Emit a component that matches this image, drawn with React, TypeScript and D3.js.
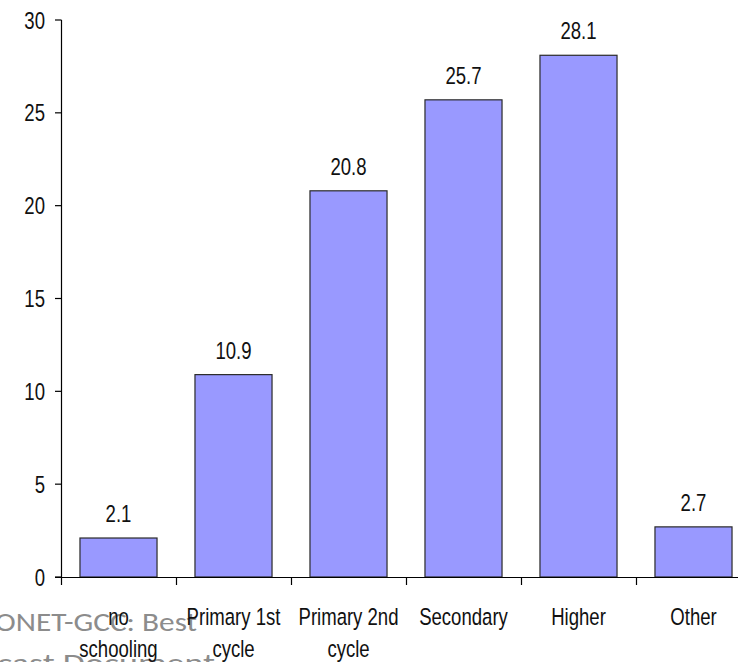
import React from "react";
import * as d3 from "d3";

const categories = ["no schooling", "Primary 1st cycle", "Primary 2nd cycle", "Secondary", "Higher", "Other"];
const categoryLines = [["no", "schooling"], ["Primary 1st", "cycle"], ["Primary 2nd", "cycle"], ["Secondary"], ["Higher"], ["Other"]];
const values = [2.1, 10.9, 20.8, 25.7, 28.1, 2.7];
const valueLabels = ["2.1", "10.9", "20.8", "25.7", "28.1", "2.7"];
const yTicks = [0, 5, 10, 15, 20, 25, 30];

const W = 738;
const H = 662;
const FONT = "'Liberation Sans', Arial, sans-serif";
const SX = 0.79;

function NText({ x, y, anchor, children }: { x: number; y: number; anchor: string; children: React.ReactNode }) {
  return (
    <text
      transform={`translate(${x},${y}) scale(${SX},1)`}
      textAnchor={anchor}
      fontFamily={FONT}
      fontSize={23.5}
      fill="#111"
    >
      {children}
    </text>
  );
}

export default function App() {
  const x = d3.scaleBand<string>().domain(categories).range([61, 61 + 6 * 115]).padding(0);
  const y = d3.scaleLinear().domain([0, 30]).range([577, 20]);
  const bw = x.bandwidth();
  const barW = bw * 0.67;

  return (
    <svg width={W} height={H} style={{ position: "absolute", left: 0, top: 0, background: "#fff" }}>
      {/* background watermark text */}
      <g fontFamily="Carlito, Calibri, Lato, 'Open Sans', sans-serif" fontSize={27} fill="#8c8c8c">
        <text x={-5} y={631} textLength={202} lengthAdjust="spacingAndGlyphs">ONET-GCC: Best</text>
        <text x={-3} y={672} textLength={218} lengthAdjust="spacingAndGlyphs">cast Document</text>
      </g>

      {/* bars */}
      {values.map((v, i) => {
        const bx = (x(categories[i]) as number) + (bw - barW) / 2;
        return (
          <rect
            key={i}
            x={bx}
            y={y(v)}
            width={barW}
            height={y(0) - y(v)}
            fill="#9999FF"
            stroke="#2a2a2a"
            strokeWidth={1.2}
          />
        );
      })}

      {/* value labels */}
      {values.map((v, i) => (
        <NText key={i} x={(x(categories[i]) as number) + bw / 2} y={y(v) - 16} anchor="middle">
          {valueLabels[i]}
        </NText>
      ))}

      {/* y axis */}
      <line x1={61.5} x2={61.5} y1={y(30)} y2={585} stroke="#000" strokeWidth={1.2} />
      {yTicks.map((t) => (
        <g key={t}>
          <line x1={55} x2={61.5} y1={y(t)} y2={y(t)} stroke="#000" strokeWidth={1.2} />
          <NText x={45} y={y(t) + 8.5} anchor="end">
            {t}
          </NText>
        </g>
      ))}

      {/* x axis */}
      <line x1={55} x2={W} y1={577.5} y2={577.5} stroke="#000" strokeWidth={1.2} />
      {categories.map((c) => (
        <line
          key={c}
          x1={(x(c) as number) + bw + 0.5}
          x2={(x(c) as number) + bw + 0.5}
          y1={577.5}
          y2={585}
          stroke="#000"
          strokeWidth={1.2}
        />
      ))}

      {/* category labels */}
      {categoryLines.map((lines, i) =>
        lines.map((ln, j) => (
          <NText key={`${i}-${j}`} x={(x(categories[i]) as number) + bw / 2} y={625 + j * 32} anchor="middle">
            {ln}
          </NText>
        ))
      )}
    </svg>
  );
}
